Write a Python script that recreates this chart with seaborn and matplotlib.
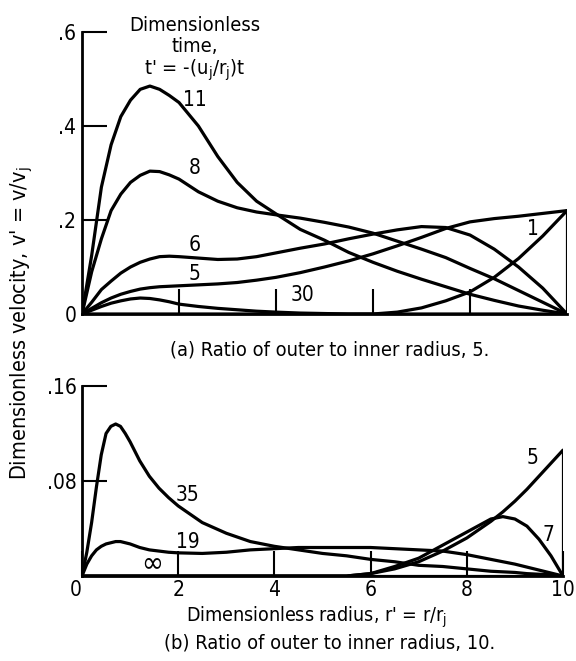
import numpy as np
import pandas as pd
import matplotlib.pyplot as plt
import seaborn as sns

# (a) ratio of outer to inner radius 5 -- radius grid and velocity curves, label = t'
r_a = [0, 0.1, 0.2, 0.3, 0.4, 0.5, 0.6, 0.7, 0.8, 0.9,
       1.0, 1.2, 1.4, 1.6, 1.8, 2.0, 2.25, 2.5, 2.75, 3.0,
       3.25, 3.5, 3.75, 4.0, 4.25, 4.5, 4.75, 5.0]
v_a_11 = [0, 0.125, 0.27, 0.36, 0.42, 0.455, 0.478, 0.485, 0.478, 0.465,
          0.45, 0.40, 0.335, 0.28, 0.24, 0.213, 0.18, 0.157, 0.131, 0.11,
          0.091, 0.074, 0.058, 0.042, 0.029, 0.017, 0.008, 0]
v_a_8 = [0, 0.09, 0.16, 0.22, 0.255, 0.28, 0.295, 0.304, 0.303, 0.296,
         0.287, 0.26, 0.24, 0.226, 0.217, 0.211, 0.204, 0.195, 0.185, 0.172,
         0.155, 0.138, 0.12, 0.097, 0.075, 0.05, 0.025, 0]
v_a_6 = [0, 0.025, 0.052, 0.07, 0.087, 0.1, 0.11, 0.117, 0.122, 0.123,
         0.122, 0.119, 0.116, 0.117, 0.122, 0.13, 0.14, 0.149, 0.16, 0.17,
         0.179, 0.186, 0.184, 0.168, 0.138, 0.1, 0.055, 0]
v_a_5 = [0, 0.012, 0.024, 0.034, 0.042, 0.048, 0.053, 0.056, 0.058, 0.059,
         0.06, 0.062, 0.064, 0.067, 0.072, 0.078, 0.088, 0.1, 0.113, 0.128,
         0.145, 0.163, 0.182, 0.196, 0.203, 0.208, 0.214, 0.22]
v_a_30 = [0, 0.008, 0.016, 0.023, 0.028, 0.032, 0.034, 0.033, 0.03, 0.026,
          0.021, 0.016, 0.012, 0.009, 0.006, 0.004, 0.002, 0.001, 0, 0,
          0, 0, 0, 0, 0, 0, 0, 0]
v_a_1 = [0, 0, 0, 0, 0, 0, 0, 0, 0, 0,
         0, 0, 0, 0, 0, 0, 0, 0, 0, 0,
         0.004, 0.013, 0.028, 0.047, 0.078, 0.118, 0.166, 0.22]

# (b) ratio of outer to inner radius 10
r_b = [0, 0.1, 0.2, 0.3, 0.4, 0.5, 0.6, 0.7, 0.8, 0.9,
       1.0, 1.2, 1.4, 1.6, 1.8, 2.0, 2.5, 3.0, 3.5, 4.0,
       4.5, 5.0, 5.5, 6.0, 6.5, 7.0, 7.5, 8.0, 8.5, 8.75,
       9.0, 9.25, 9.5, 9.75, 10.0]
v_b_35 = [0, 0.02, 0.045, 0.075, 0.102, 0.12, 0.126, 0.128, 0.126, 0.12,
          0.113, 0.097, 0.084, 0.074, 0.066, 0.059, 0.045, 0.036, 0.029, 0.025,
          0.022, 0.019, 0.017, 0.014, 0.012, 0.009, 0.008, 0.006, 0.004, 0.0035,
          0.003, 0.002, 0.0015, 0.001, 0]
v_b_19 = [0, 0.01, 0.017, 0.022, 0.025, 0.027, 0.028, 0.029, 0.029, 0.028,
          0.027, 0.024, 0.022, 0.021, 0.02, 0.0195, 0.019, 0.02, 0.022, 0.023,
          0.024, 0.024, 0.024, 0.024, 0.023, 0.022, 0.021, 0.018, 0.014, 0.012,
          0.01, 0.0075, 0.005, 0.0025, 0]
v_b_inf = [0] * 35
v_b_5 = [0] * 23 + [0.002, 0.006, 0.012, 0.021, 0.032, 0.046, 0.054,
                    0.063, 0.073, 0.084, 0.095, 0.106]
v_b_7 = [0] * 23 + [0.002, 0.008, 0.015, 0.026, 0.037, 0.048, 0.05,
                    0.048, 0.042, 0.031, 0.017, 0]

# curve labels: (text, r', v', size)
labels_a = [('11', 1.16, 0.455, 15), ('8', 1.16, 0.31, 15), ('6', 1.16, 0.147, 15),
            ('5', 1.16, 0.085, 15), ('30', 2.27, 0.04, 15), ('1', 4.65, 0.18, 15)]
labels_b = [('35', 2.2, 0.068, 15), ('19', 2.2, 0.0286, 15), ('\u221e', 1.45, 0.011, 21),
            ('5', 9.36, 0.099, 15), ('7', 9.69, 0.0345, 15)]

sns.set_style('ticks')
plt.rcParams['font.family'] = ['DejaVu Sans']
plt.rcParams['font.stretch'] = 'condensed'
plt.rcParams['mathtext.fontset'] = 'dejavusans'
for k in ['text.color', 'axes.edgecolor', 'xtick.color', 'ytick.color', 'axes.labelcolor']:
    plt.rcParams[k] = 'black'

fig = plt.figure(figsize=(5.76, 6.61), dpi=100)
ax_a = fig.add_axes([82 / 576, 1 - 314 / 661, 485 / 576, 282 / 661])
ax_b = fig.add_axes([82 / 576, 1 - 576 / 661, 481 / 576, 190 / 661])

lw = 2.3
for v in [v_a_11, v_a_8, v_a_6, v_a_5, v_a_30, v_a_1]:
    sns.lineplot(x=r_a, y=v, color='black', lw=lw, ax=ax_a)
ax_a.vlines(r_a[-1], 0, max(v_a_5[-1], v_a_1[-1]), color='black', lw=lw)

for v in [v_b_35, v_b_19, v_b_inf, v_b_5, v_b_7]:
    sns.lineplot(x=r_b, y=v, color='black', lw=lw, ax=ax_b)
ax_b.vlines(r_b[-1], 0, v_b_5[-1], color='black', lw=lw)

for ax in [ax_a, ax_b]:
    sns.despine(ax=ax)
    for s in ['left', 'bottom']:
        ax.spines[s].set_linewidth(2)
    ax.tick_params(direction='in', length=18, width=1.5, labelsize=15, pad=4)
    ax.set_xlabel('')
    ax.set_ylabel('')

ax_a.set_xlim(0, 5)
ax_a.set_ylim(0, 0.6)
ax_a.set_xticks([1, 2, 3, 4])
ax_a.tick_params(axis='x', labelbottom=False)
ax_a.set_yticks([0, 0.2, 0.4, 0.6])
ax_a.set_yticklabels(['0', '.2', '.4', '.6'])

ax_b.set_xlim(0, 10)
ax_b.set_ylim(0, 0.16)
ax_b.set_xticks([0, 2, 4, 6, 8, 10])
ax_b.set_xticklabels(['0', '2', '4', '6', '8', '10'])
ax_b.set_yticks([0.08, 0.16])
ax_b.set_yticklabels(['.08', '.16'])
ax_b.tick_params(axis='x', pad=3)
ax_b.get_xticklabels()[0].set_horizontalalignment('right')

for txt, x, y, s in labels_a:
    ax_a.text(x, y, txt, fontsize=s, ha='center', va='center')
for txt, x, y, s in labels_b:
    ax_b.text(x, y, txt, fontsize=s, ha='center', va='center')

ax_a.text(1.16, 0.634, "Dimensionless\ntime,\nt' = -(u$\\mathregular{_j}$/r$\\mathregular{_j}$)t",
          fontsize=14.5, ha='center', va='top', linespacing=1.1, clip_on=False)

fig.text(330 / 576, 1 - 350 / 661, '(a) Ratio of outer to inner radius, 5.',
         fontsize=14.4, ha='center', va='center')
fig.text(316 / 576, 1 - 617 / 661, "Dimensionless radius, r' = r/r$\\mathregular{_j}$",
         fontsize=14, ha='center', va='center')
fig.text(330 / 576, 1 - 643 / 661, '(b) Ratio of outer to inner radius, 10.',
         fontsize=14.4, ha='center', va='center')
fig.text(22 / 576, 1 - 323 / 661, "Dimensionless velocity, v' = v/v$\\mathregular{_j}$",
         fontsize=15.5, ha='center', va='center', rotation=90)

fig.savefig('out.png', dpi=100)
